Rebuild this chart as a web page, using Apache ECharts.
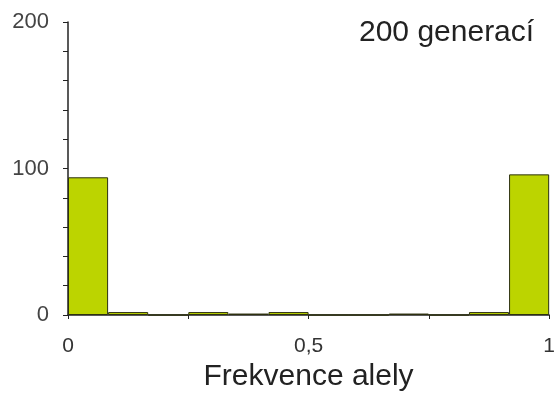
<!DOCTYPE html>
<html>
<head>
<meta charset="utf-8">
<script src="https://cdn.jsdelivr.net/npm/echarts@6/dist/echarts.min.js"></script>
<style>html,body{margin:0;padding:0;background:#fff}#c{width:558px;height:397px}</style>
</head>
<body>
<div id="c"></div>
<script>
// Histogram bins (12 bins from 0 to 1)
const bins = ['0-1/12','1/12-2/12','2/12-3/12','3/12-4/12','4/12-5/12','5/12-6/12','6/12-7/12','7/12-8/12','8/12-9/12','9/12-10/12','10/12-11/12','11/12-1'];
const counts = [94, 2, 0, 2, 1, 2, 0, 0, 1, 0, 2, 96];
const yTickLabels = [0, 100, 200];
const xTickLabels = [0, 0.5, 1];
const titleText = '200 generací';
const xName = 'Frekvence alely';

const chart = echarts.init(document.getElementById('c'));
const font = 'Liberation Sans, Arial, sans-serif';
chart.setOption({
  animation: false,
  backgroundColor: '#fff',
  title: {
    text: titleText, left: 354, top: 13,
    textStyle: {fontFamily: font, fontSize: 30, fontWeight: 'normal', color: '#222'}
  },
  grid: {left: 68, right: 8, top: 22, bottom: 82, containLabel: false},
  xAxis: [{
    type: 'category', data: bins, position: 'bottom',
    boundaryGap: true,
    axisLine: {show: true, lineStyle: {color: '#222', width: 1.5}},
    axisTick: {show: true, length: 4, alignWithLabel: false, lineStyle: {color: '#222'}},
    axisLabel: {show: false},
    splitLine: {show: false}
  }, {
    type: 'value', min: 0, max: 1, interval: 0.5, position: 'bottom',
    axisLine: {show: false}, axisTick: {show: false}, splitLine: {show: false},
    axisLabel: {
      show: true, showMinLabel: true, showMaxLabel: true, margin: 21,
      fontFamily: font, fontSize: 21, color: '#333',
      formatter: v => xTickLabels.some(t => Math.abs(t - v) < 1e-9) ? String(v).replace('.', ',') : ''
    },
    name: xName, nameLocation: 'middle', nameGap: 46,
    nameTextStyle: {fontFamily: font, fontSize: 30, color: '#222'}
  }],
  yAxis: {
    type: 'value', min: 0, max: 200, interval: 20,
    axisLine: {show: true, lineStyle: {color: '#222', width: 1.5}},
    axisTick: {show: true, length: 5, lineStyle: {color: '#222'}},
    splitLine: {show: false},
    axisLabel: {
      margin: 19, fontFamily: font, fontSize: 22, color: '#444',
      formatter: v => yTickLabels.includes(v) ? String(v) : ''
    }
  },
  series: [{
    type: 'bar', xAxisIndex: 0, data: counts,
    barWidth: '100%', barCategoryGap: 0,
    itemStyle: {color: '#bcd400', borderColor: '#2d3110', borderWidth: 1}
  }]
});
</script>
</body>
</html>
